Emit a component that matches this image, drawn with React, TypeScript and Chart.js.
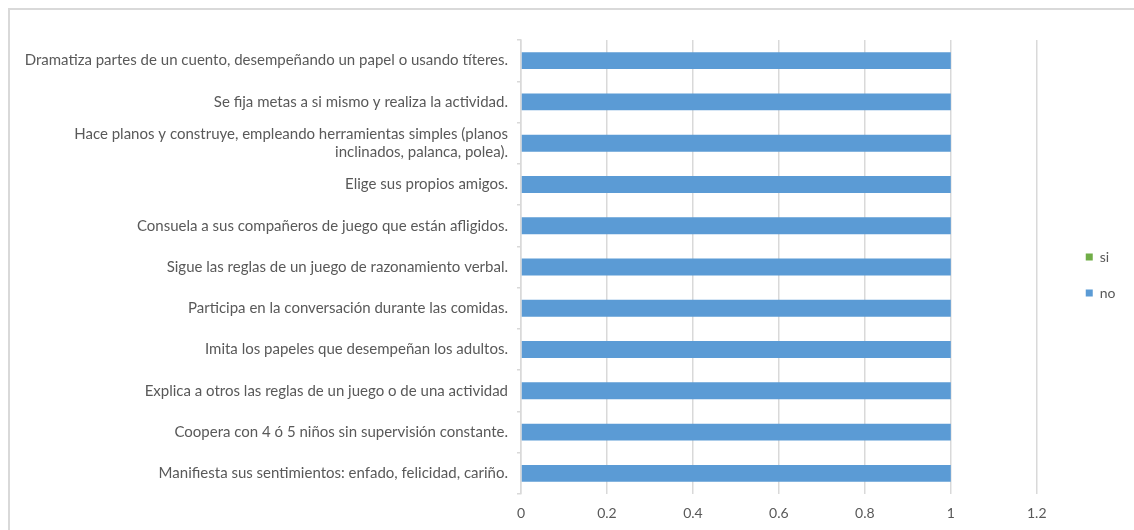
import React, { useEffect, useRef } from "react";
import { Chart, registerables } from "chart.js";

Chart.register(...registerables);

const categories: (string | string[])[] = [
  "Dramatiza partes de un cuento, desempeñando un papel o usando títeres.",
  "Se fija metas a si mismo y realiza la actividad.",
  ["Hace planos y construye, empleando herramientas simples (planos", "inclinados, palanca, polea)."],
  "Elige sus propios amigos.",
  "Consuela a sus compañeros de juego que están afligidos.",
  "Sigue las reglas de un juego de razonamiento verbal.",
  "Participa en la conversación durante las comidas.",
  "Imita los papeles que desempeñan los adultos.",
  "Explica a otros las reglas de un juego o de una actividad",
  "Coopera con 4 ó 5 niños sin supervisión constante.",
  "Manifiesta sus sentimientos: enfado, felicidad, cariño.",
];

const siValues = [0, 0, 0, 0, 0, 0, 0, 0, 0, 0, 0];
const noValues = [1, 1, 1, 1, 1, 1, 1, 1, 1, 1, 1];
const xTickLabels = ["0", "0.2", "0.4", "0.6", "0.8", "1", "1.2"];

const FONT = "Lato, 'Open Sans', sans-serif";
const TEXT = "#595959";
const GRID = "#d9d9d9";

export default function App() {
  const ref = useRef<HTMLCanvasElement | null>(null);

  useEffect(() => {
    if (!ref.current) return;
    const chart = new Chart(ref.current, {
      type: "bar",
      data: {
        labels: categories,
        datasets: [
          { label: "si", data: siValues, backgroundColor: "#70AD47", barPercentage: 0.41, categoryPercentage: 1 },
          { label: "no", data: noValues, backgroundColor: "#5B9BD5", barPercentage: 0.41, categoryPercentage: 1 },
        ],
      },
      options: {
        indexAxis: "y",
        responsive: false,
        animation: false,
        layout: { padding: { top: 10, left: 0, right: 8.5, bottom: 0 } },
        plugins: {
          tooltip: { enabled: false },
          legend: {
            position: "right",
            labels: {
              boxWidth: 7,
              boxHeight: 7,
              padding: 22,
              color: TEXT,
              font: { family: FONT, size: 14 },
            },
          },
        },
        scales: {
          x: {
            stacked: true,
            min: 0,
            max: 1.2,
            ticks: {
              stepSize: 0.2,
              color: TEXT,
              font: { family: FONT, size: 14 },
              padding: 11,
              callback: (_v: any, i: number) => xTickLabels[i],
            },
            grid: { color: GRID, lineWidth: 1.5, drawTicks: false },
            border: { display: false },
            afterFit: (s: any) => {
              s.height = 36;
            },
          },
          y: {
            stacked: true,
            ticks: {
              color: TEXT,
              font: { family: FONT, size: 15, lineHeight: 1.15 },
              padding: 9,
            },
            grid: { drawOnChartArea: false, drawTicks: true, tickLength: 4, color: GRID, lineWidth: 1.5 },
            border: { display: true, color: GRID, width: 1.5 },
            afterFit: (s: any) => {
              s.width = 511;
            },
          },
          gapRight: {
            type: "category",
            axis: "y",
            position: "right",
            display: true,
            ticks: { display: false },
            grid: { display: false },
            border: { display: false },
            afterFit: (s: any) => {
              s.width = 27;
            },
          },
          gapTop: {
            type: "linear",
            axis: "x",
            position: "top",
            display: true,
            ticks: { display: false },
            grid: { display: false },
            border: { display: false },
            afterFit: (s: any) => {
              s.height = 20;
            },
          },
        },
      },
    } as any);
    return () => chart.destroy();
  }, []);

  return (
    <div
      style={{
        position: "fixed",
        left: 8,
        top: 8,
        width: 1124,
        height: 520,
        borderTop: "2px solid #d9d9d9",
        borderLeft: "2px solid #d9d9d9",
        overflow: "hidden",
        background: "#fff",
      }}
    >
      <canvas ref={ref} width={1124} height={520} style={{ display: "block", width: 1124, height: 520 }} />
    </div>
  );
}
